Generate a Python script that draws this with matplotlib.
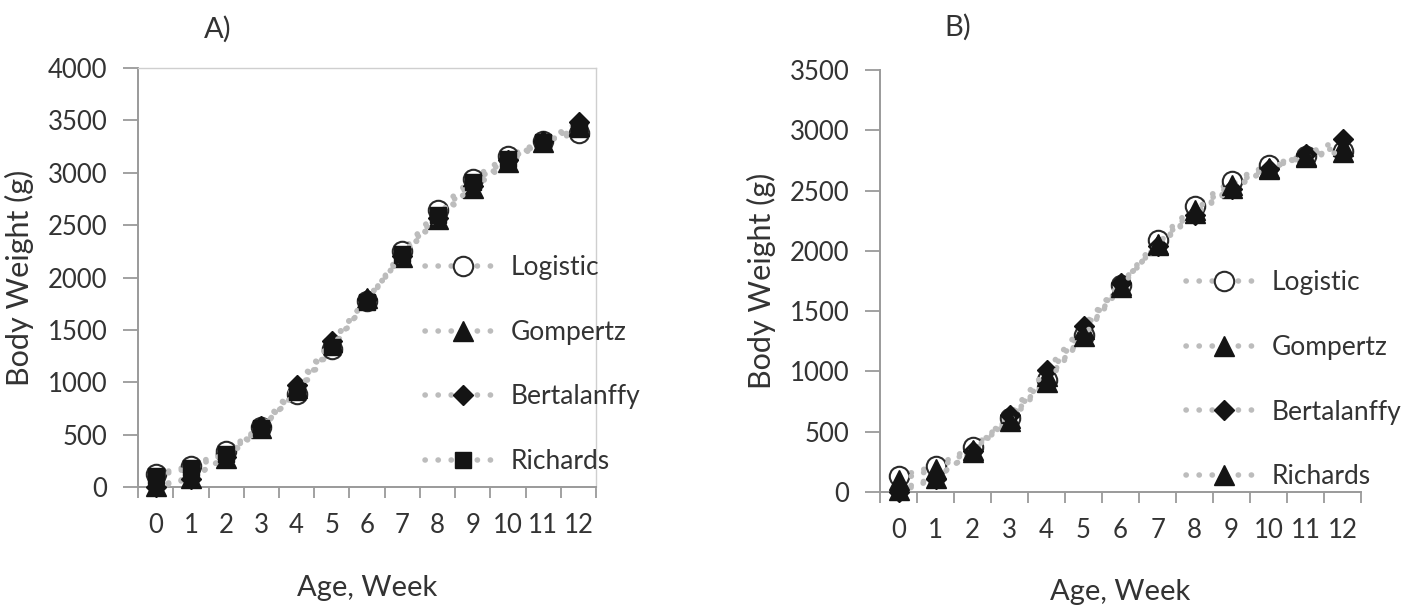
import matplotlib
matplotlib.use("Agg")
import matplotlib.pyplot as plt
from matplotlib.ticker import FixedLocator, MultipleLocator

plt.rcParams["font.family"] = ["Lato", "DejaVu Sans"]

weeks = list(range(13))
model_names = ["Logistic", "Gompertz", "Bertalanffy", "Richards"]

# panel A, body weight (g) per week
a_logistic = [125, 200, 345, 575, 890, 1320, 1775, 2250, 2640, 2945, 3160, 3300, 3380]
a_gompertz = [10, 90, 280, 560, 950, 1380, 1800, 2200, 2560, 2850, 3100, 3290, 3450]
a_bertalanffy = [0, 80, 290, 580, 975, 1390, 1795, 2205, 2570, 2870, 3120, 3300, 3480]
a_richards = [110, 180, 320, 560, 910, 1340, 1770, 2220, 2600, 2910, 3130, 3290, 3420]

# panel B
b_logistic = [130, 215, 370, 610, 930, 1300, 1720, 2090, 2370, 2580, 2710, 2790, 2830]
b_gompertz = [20, 120, 330, 610, 960, 1350, 1720, 2050, 2310, 2520, 2680, 2790, 2870]
b_bertalanffy = [0, 110, 340, 640, 1010, 1380, 1730, 2040, 2300, 2510, 2680, 2800, 2930]
b_richards = [100, 190, 350, 590, 910, 1290, 1700, 2060, 2340, 2550, 2690, 2780, 2820]

TEXT = "#333333"
DOT = "#bcbcbc"
INK = "#141414"
TICK_FS = 18.5
LEG_FS = 19


def marker_style(name, richards_marker):
    if name == "Logistic":
        return dict(marker="o", markersize=14, markerfacecolor="white",
                    markeredgecolor="#2a2a2a", markeredgewidth=1.5)
    if name == "Gompertz":
        return dict(marker="^", markersize=14, markerfacecolor=INK, markeredgecolor=INK)
    if name == "Bertalanffy":
        return dict(marker="D", markersize=10.5, markerfacecolor=INK, markeredgecolor=INK)
    m = richards_marker
    size = 14 if m == "^" else 11
    return dict(marker=m, markersize=size, markerfacecolor=INK, markeredgecolor=INK)


def draw_panel(ax, series, ymax, richards_marker, leg_anchor, border):
    for i, (name, vals) in enumerate(zip(model_names, series)):
        ax.plot(weeks, vals, color=DOT, lw=4, linestyle=(0, (0.05, 2.3)),
                dash_capstyle="round", solid_capstyle="round",
                clip_on=False, zorder=3 + i, label=name,
                **marker_style(name, richards_marker))

    ax.set_xlim(-0.5, 12.5)
    ax.set_ylim(0, ymax)
    ax.yaxis.set_major_locator(MultipleLocator(500))
    ax.xaxis.set_major_locator(FixedLocator([w - 0.5 for w in weeks] + [12.5]))
    ax.xaxis.set_minor_locator(FixedLocator(weeks))
    ax.set_xticklabels([], minor=False)
    ax.set_xticklabels([str(w) for w in weeks], minor=True)
    ax.tick_params(axis="x", which="major", length=8, width=1.3, color="#9a9a9a",
                   direction="out")
    ax.tick_params(axis="x", which="minor", length=0, pad=19, labelsize=TICK_FS,
                   labelcolor=TEXT)
    ax.tick_params(axis="y", length=11, width=1.3, color="#9a9a9a", pad=11,
                   labelsize=TICK_FS, labelcolor=TEXT)

    for side in ("left", "bottom"):
        ax.spines[side].set_color("#9a9a9a")
        ax.spines[side].set_linewidth(1.4)
    for side in ("top", "right"):
        if border:
            ax.spines[side].set_color("#cfcfcf")
            ax.spines[side].set_linewidth(1.0)
        else:
            ax.spines[side].set_visible(False)

    ax.set_xlabel("Age, Week", fontsize=21, color=TEXT, labelpad=26)
    ax.set_ylabel("Body Weight (g)", fontsize=22, color=TEXT, labelpad=10)

    leg = ax.legend(loc="upper left", bbox_to_anchor=leg_anchor, frameon=False,
                    fontsize=LEG_FS, handlelength=2.85, handletextpad=0.4,
                    labelspacing=1.5, borderpad=0, borderaxespad=0, numpoints=1)
    for t in leg.get_texts():
        t.set_color(TEXT)


fig = plt.figure(figsize=(14.19, 6.05), dpi=100)
axA = fig.add_axes([0.0973, 0.195, 0.3228, 0.6926])
axB = fig.add_axes([0.6202, 0.1868, 0.3390, 0.6975])

draw_panel(axA, [a_logistic, a_gompertz, a_bertalanffy, a_richards], 4000, "s",
           (0.627, 0.553), border=True)
draw_panel(axB, [b_logistic, b_gompertz, b_bertalanffy, b_richards], 3500, "^",
           (0.636, 0.525), border=False)

fig.text(0.1536, 0.952, "A)", fontsize=21, color=TEXT, ha="center", va="center")
fig.text(0.6750, 0.955, "B)", fontsize=21, color=TEXT, ha="center", va="center")

fig.savefig("out.png", dpi=100)
